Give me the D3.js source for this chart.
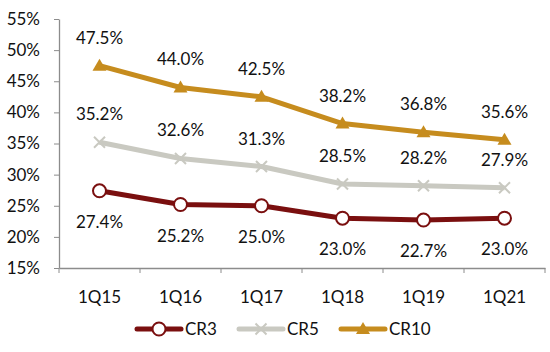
<!DOCTYPE html>
<html>
<head>
<meta charset="utf-8">
<script src="https://cdn.jsdelivr.net/npm/d3@7"></script>
<style>
  body { margin: 0; background: #fff; }
  text { font-family: Lato, "Open Sans", sans-serif; fill: #111; }
</style>
</head>
<body>
<svg id="chart" width="550" height="352"></svg>
<script>
/*
Chart data
*/
var quarters = ["1Q15", "1Q16", "1Q17", "1Q18", "1Q19", "1Q21"];
var cr3 = [27.4, 25.2, 25.0, 23.0, 22.7, 23.0];
var cr5 = [35.2, 32.6, 31.3, 28.5, 28.2, 27.9];
var cr10 = [47.5, 44.0, 42.5, 38.2, 36.8, 35.6];
var yTicks = [15, 20, 25, 30, 35, 40, 45, 50, 55];

var series = [
  {name: "CR3", values: cr3, color: "#7a0f0f", marker: "circle", labelPos: "below"},
  {name: "CR5", values: cr5, color: "#c9c9c1", marker: "cross", labelPos: "above"},
  {name: "CR10", values: cr10, color: "#c68c1e", marker: "triangle", labelPos: "above"}
];

var svg = d3.select("#chart");
var plotLeft = 59, plotRight = 545, plotTop = 19, plotBottom = 268;

var x = d3.scaleBand().domain(quarters).range([plotLeft, plotRight]);
var y = d3.scaleLinear().domain([15, 55]).range([plotBottom, plotTop]);
var cx = function(i){ return x(quarters[i]) + x.bandwidth()/2; };

/* axes */
var yAxis = svg.append("g")
  .attr("transform", "translate(" + plotLeft + ",0)")
  .call(d3.axisLeft(y).tickValues(yTicks).tickSize(5).tickSizeOuter(0).tickFormat(function(d){ return d + "%"; }));
yAxis.selectAll("text").attr("x", -19).style("font-size", "17px");

var xAxis = svg.append("g")
  .attr("transform", "translate(0," + plotBottom + ")")
  .call(d3.axisBottom(x).tickSize(0).tickSizeOuter(0));
xAxis.selectAll("text").attr("dy", "1.9em").style("font-size", "17px");
// tick marks between categories
xAxis.selectAll(".sep")
  .data(d3.range(quarters.length + 1))
  .enter().append("line")
  .attr("class", "sep")
  .attr("x1", function(i){ return plotLeft + i*x.bandwidth(); })
  .attr("x2", function(i){ return plotLeft + i*x.bandwidth(); })
  .attr("y1", 0).attr("y2", 5)
  .attr("stroke", "#8c8c8c");

svg.selectAll(".domain, .tick line").attr("stroke", "#8c8c8c");
svg.selectAll(".domain").attr("stroke-width", 1.3);
svg.selectAll("g text").attr("fill", "#111");

/* markers */
function drawMarker(g, s, px, py){
  if (s.marker == "circle"){
    g.append("circle").attr("cx", px).attr("cy", py).attr("r", 6.5)
      .attr("fill", "#fff").attr("stroke", s.color).attr("stroke-width", 2);
  } else if (s.marker == "cross"){
    var k = 5.5;
    g.append("path")
      .attr("d", "M" + (px-k) + "," + (py-k) + "L" + (px+k) + "," + (py+k) + "M" + (px-k) + "," + (py+k) + "L" + (px+k) + "," + (py-k))
      .attr("stroke", s.color).attr("stroke-width", 2).attr("fill", "none");
  } else {
    var h = 7;
    g.append("path")
      .attr("d", "M" + px + "," + (py-h) + "L" + (px+h) + "," + (py+5) + "L" + (px-h) + "," + (py+5) + "Z")
      .attr("fill", s.color);
  }
}

var line = d3.line()
  .x(function(d,i){ return cx(i); })
  .y(function(d){ return y(d); });

series.forEach(function(s){
  var g = svg.append("g");
  g.append("path").datum(s.values)
    .attr("d", line)
    .attr("fill", "none")
    .attr("stroke", s.color)
    .attr("stroke-width", 5)
    .attr("stroke-linejoin", "round");
  s.values.forEach(function(v, i){ drawMarker(g, s, cx(i), y(v)); });
  g.selectAll("text.lbl").data(s.values).enter().append("text")
    .attr("class", "lbl")
    .attr("x", function(d,i){ return cx(i); })
    .attr("y", function(d){ return s.labelPos == "above" ? y(d) - 22 : y(d) + 37; })
    .attr("text-anchor", "middle")
    .style("font-size", "17px")
    .text(function(d){ return d.toFixed(1) + "%"; });
});

/* legend */
var legend = svg.append("g").attr("transform", "translate(0,329)");
var legendX = [137, 239, 341];
series.forEach(function(s, i){
  var lx = legendX[i];
  legend.append("line").attr("x1", lx).attr("x2", lx + 44).attr("y1", 0).attr("y2", 0)
    .attr("stroke", s.color).attr("stroke-width", 5).attr("stroke-linecap", "round");
  drawMarker(legend, s, lx + 22, 0);
  legend.append("text").attr("x", lx + 48).attr("y", 6).style("font-size", "17px").text(s.name);
});
</script>
</body>
</html>
